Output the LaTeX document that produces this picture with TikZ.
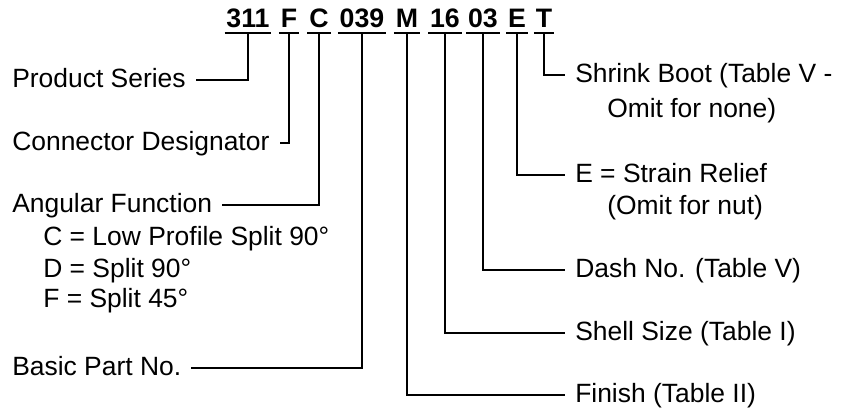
\documentclass[tikz,border=0pt]{standalone}
\usepackage{fontspec}
\setmainfont{Liberation Sans}
\usetikzlibrary{positioning}

\begin{document}
\begin{tikzpicture}[
    x=0.25mm, y=-0.25mm,
    every node/.style={font=\fontsize{18.8}{22}\selectfont},
    code/.style={font=\fontsize{19}{22}\selectfont\bfseries, anchor=base, inner xsep=0.4mm, inner ysep=1.5mm, text depth=0pt},
    desc/.style={anchor=west, inner xsep=2.5mm, inner ysep=0pt, text height=3.5mm, text depth=0pt},
    lead/.style={line width=1.3pt}
]
\useasboundingbox (0,0) rectangle (852,414);

% ============ PART NUMBER ============
\foreach \n/\t/\x in {c311/311/248, cF/F/289, cC/C/319, c039/039/362, cM/M/407, c16/16/445, c03/03/483, cE/E/517, cT/T/544} {
    \node[code] (\n) at (\x, 27) {\t};
    \draw[lead] (\n.south west) -- (\n.south east);
}

% ============ LEFT SIDE ============
\node[desc] (ps) at (2, 80) {Product Series};
\node[desc] (cd) at (2, 143) {Connector Designator};
\node[desc] (af) at (2, 205) {Angular Function};
\node[desc] (afc) at (33, 238) {C = Low Profile Split 90°};
\node[desc] (afd) at (33, 270) {D = Split 90°};
\node[desc] (aff) at (33, 300) {F = Split 45°};
\node[desc] (bp) at (2, 368) {Basic Part No.};

% ============ RIGHT SIDE ============
\node[desc] (sb) at (565, 75) {Shrink Boot (Table V -};
\node[desc] (sb2) at (597, 110) {Omit for none)};
\node[desc] (sr) at (565, 175) {E = Strain Relief};
\node[desc] (sr2) at (597, 207) {(Omit for nut)};
\node[desc] (dn) at (565, 270) {Dash No. (Table V)};
\node[desc] (ss) at (565, 333) {Shell Size (Table I)};
\node[desc] (fin) at (565, 395) {Finish (Table II)};

% Leader lines
\foreach \c/\l in {c311/ps, cF/cd, cC/af, c039/bp}
    \draw[lead] (\c.south) |- (\l.east);
\foreach \c/\l in {cM/fin, c16/ss, c03/dn, cE/sr, cT/sb}
    \draw[lead] (\c.south) |- (\l.west);

\end{tikzpicture}
\end{document}
